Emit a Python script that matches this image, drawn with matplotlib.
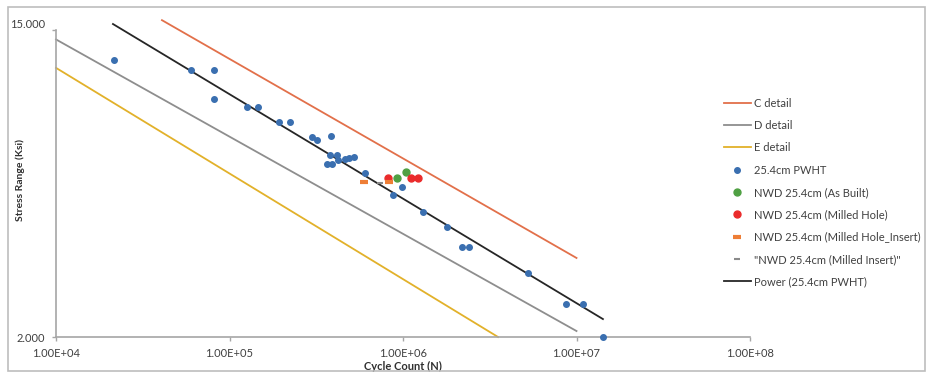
import matplotlib
matplotlib.use("Agg")
import matplotlib.pyplot as plt
import matplotlib.transforms as mtransforms
from matplotlib.ticker import NullLocator, FixedLocator, FixedFormatter
from matplotlib.patches import Rectangle

plt.rcParams['font.family'] = ['Lato', 'DejaVu Sans']

# S-N design lines (cycles, stress range ksi)
c_n = [4.08e4, 1.0e7]
c_s = [16.0, 3.36]
d_n = [1.0e4, 1.0e7]
d_s = [14.1, 2.08]
e_n = [1.0e4, 3.53e6]
e_s = [11.7, 2.0]

# test data
pwht_n = [2.16e4, 6.0e4, 8.15e4, 8.15e4, 1.26e5, 1.46e5, 1.93e5, 2.23e5, 2.99e5, 3.19e5,
          3.85e5, 3.80e5, 4.17e5, 4.22e5, 3.65e5, 3.90e5, 4.63e5, 4.89e5, 5.22e5, 6.04e5,
          9.87e5, 8.75e5, 1.30e6, 1.79e6, 2.19e6, 2.40e6, 5.25e6, 8.69e6, 1.09e7, 1.42e7]
pwht_s = [12.3, 11.5, 11.5, 9.53, 9.04, 9.04, 8.20, 8.20, 7.43, 7.28,
          7.48, 6.60, 6.60, 6.38, 6.22, 6.22, 6.43, 6.47, 6.52, 5.86,
          5.35, 5.08, 4.54, 4.11, 3.61, 3.61, 3.04, 2.48, 2.48, 2.0]
built_n = [1.04e6, 9.23e5]
built_s = [5.90, 5.68]
hole_n = [8.2e5, 1.11e6, 1.22e6]
hole_s = [5.68, 5.68, 5.68]
hole_ins_n = [5.96e5, 8.3e5]
hole_ins_s = [5.53, 5.53]
ins_n = [7.36e5]
ins_s = [5.50]

# power trendline of the PWHT series
power_n = [2.13e4, 1.42e7]
power_s = [15.6, 2.25]

x_ticks = [1e4, 1e5, 1e6, 1e7, 1e8]
x_labels = ['1.00E+04', '1.00E+05', '1.00E+06', '1.00E+07', '1.00E+08']
y_ticks = [2, 15]
y_labels = ['2.000', '15.000']

fig = plt.figure(figsize=(9.29, 3.75), dpi=100)
ax = fig.add_axes([56/929, 38/375, 694/929, 307/375])

ax.plot(c_n, c_s, color='#E2704A', lw=1.3, label='C detail', clip_on=False)
ax.plot(d_n, d_s, color='#8E8E8E', lw=1.3, label='D detail', clip_on=False)
ax.plot(e_n, e_s, color='#E2B12A', lw=1.3, label='E detail', clip_on=False)
ax.plot(pwht_n, pwht_s, ls='none', marker='o', ms=4, color='#3A6FB0',
        label='25.4cm PWHT', clip_on=False, zorder=4)
ax.plot(built_n, built_s, ls='none', marker='o', ms=5, color='#4FA043',
        label='NWD 25.4cm (As Built)', zorder=5)
ax.plot(hole_n, hole_s, ls='none', marker='o', ms=5, color='#EA2B2B',
        label='NWD 25.4cm (Milled Hole)', zorder=5)
ax.plot(hole_ins_n, hole_ins_s, ls='none', marker='_', ms=6, mew=3, color='#EE7E36',
        label='NWD 25.4cm (Milled Hole_Insert)', zorder=5)
ax.plot(ins_n, ins_s, ls='none', marker='_', ms=5, mew=1.5, color='#8A8A8A',
        label='"NWD 25.4cm (Milled Insert)"', zorder=5)
ax.plot(power_n, power_s, color='#262626', lw=1.3, label='Power (25.4cm PWHT)',
        clip_on=False, zorder=3)

ax.set_xscale('log')
ax.set_yscale('log')
ax.set_xlim(1e4, 1e8)
ax.set_ylim(2, 15)
ax.xaxis.set_major_locator(FixedLocator(x_ticks))
ax.xaxis.set_major_formatter(FixedFormatter(x_labels))
ax.xaxis.set_minor_locator(NullLocator())
ax.yaxis.set_major_locator(FixedLocator(y_ticks))
ax.yaxis.set_major_formatter(FixedFormatter(y_labels))
ax.yaxis.set_minor_locator(NullLocator())

for s in ['top', 'right']:
    ax.spines[s].set_visible(False)
for s in ['left', 'bottom']:
    ax.spines[s].set_color('#A6A6A6')
    ax.spines[s].set_linewidth(1.2)
ax.tick_params(length=3, width=1, color='#A6A6A6', labelsize=8,
               labelcolor='#404040', pad=5)

# the top value label sits a little above the axis end
fig.canvas.draw()
top_label = ax.yaxis.get_majorticklabels()[1]
top_label.set_transform(top_label.get_transform() +
                        mtransforms.ScaledTranslation(0, 6/100, fig.dpi_scale_trans))

ax.set_xlabel('Cycle Count (N)', fontsize=8, fontweight='bold', color='#303030', labelpad=1)
fig.text(20/929, 1 - 180/375, 'Stress Range (Ksi)', rotation=90, fontsize=7.5,
         fontweight='bold', color='#303030', ha='center', va='center')

fig.legend(loc='upper left', bbox_to_anchor=(718/929, 1 - 92/375), frameon=False,
           fontsize=8, handlelength=2.5, handletextpad=0.2, labelspacing=1.02,
           borderpad=0, labelcolor='#404040')

# outer chart frame
fig.patches.append(Rectangle((8/929, 4/375), 917/929, 364/375, transform=fig.transFigure,
                             fill=False, edgecolor='#BDBDBD', lw=1.2))

fig.savefig('out.png', dpi=100)
